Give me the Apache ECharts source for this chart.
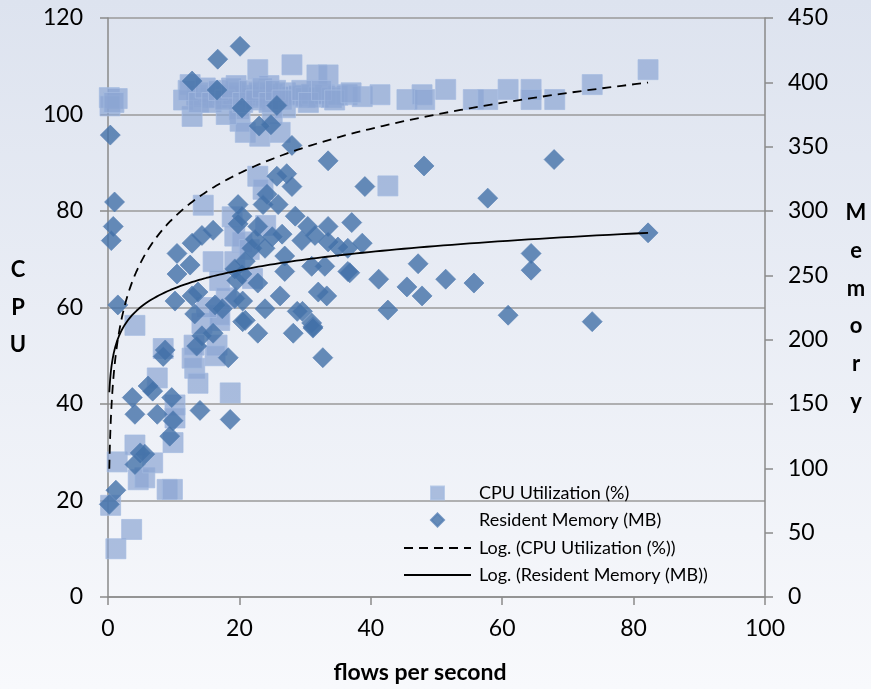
<!DOCTYPE html>
<html><head><meta charset="utf-8">
<script src="https://cdn.jsdelivr.net/npm/echarts@6/dist/echarts.min.js"></script>
<style>html,body{margin:0;padding:0;background:#fff;}#c{width:871px;height:689px;}</style>
</head><body><div id="c"></div>
<script>
// flows per second (x) and CPU utilization (%) for the square markers
const cpuFlows = [0.2,1.4,0.3,1.2,3.6,0.4,1.4,4.1,4.6,5.6,6.8,9.0,9.8,7.5,8.4,10.2,10.2,9.9,13.2,13.7,12.8,13.1,16.6,16.3,18.6,14.3,4.1,17,14.5,22.8,23.6,18.9,19.3,20.4,16,19.3,17,17,12.5,12.8,22.8,28,31.8,33.5,20.1,20.9,23.1,26.2,27,36.4,38.7,41.4,45.5,47.8,48.2,51.4,55.6,57.8,60.9,64.4,64.4,68,73.7,82.2,42.6,
  13.5,14.5,15.5,16.5,17.5,18.5,19.5,21,22,23,24,25,26,27,28,29,30,31,32,33,34,35,
  21.5,22,18,15,24,20,19,18,25,19.5,24.5,
  11.5,12.2,13.8,14.8,15.8,16.8,17.8,18.8,20.5,21.5,22.5,23.5,24.5,25.5,26.5,29.5,30.5,32.5,34.5,37,
  0.9];
const cpuValues = [103.5,103.3,101.8,10,14,19,28,31.5,24.3,24.7,27.8,22.3,22.3,45.4,51.5,39.8,37.1,32,47.4,44.3,49.5,52.2,52.2,50,42.3,56.7,56.3,57.3,81.2,87.2,84.5,78.8,74.8,73.6,69.5,69.5,65.6,58.4,106.2,99.6,109.3,110.3,108.2,108.2,98.6,96.3,95.5,96.3,101.4,104.1,103.7,104.1,103.1,104.1,103.1,105.2,103.1,103.1,105.2,105.2,103.1,103.1,106.2,109.3,85.2,
  104,103.5,104.5,103.5,104,103.5,104.5,104,103.5,104.5,103.8,104.2,103.5,104.5,103.8,104,103.5,104.2,103.6,104.2,103.5,104,
  72,66,62,60,77,101,104,100,100,106,106,
  103,105,102.5,105.5,102.5,105,103,105.5,102.5,105,103,105.5,102.5,105,103,105,102.5,105,103,104.5,
  102.5];
// flows per second (x) and resident memory (MB) for the diamond markers
const memFlows = [0.35,12.8,16.7,20.1,16.6,20.4,25.7,23,24.8,28,33.5,25.7,27.2,28,24.2,23.6,25.9,19.8,20.4,19.8,22.8,28.5,30.4,33.5,37.1,16,14.3,12.8,10.5,12.5,10.5,22.4,25,26.5,21.9,23.9,29.5,31.5,33.5,35,36.5,26.9,20.9,19.3,20.4,22.8,19.6,26.9,31,33,36.5,10.2,12.8,13.7,13.2,16.3,17.4,19.3,20.5,20.9,23.9,26.2,28.8,32,33.3,31,20.5,22.8,28.2,31.2,32.7,18.3,16,14.3,13.5,8.7,8.4,6.1,6.8,3.7,4.1,7.5,9.7,9.9,9.4,14,18.6,4.9,5.6,4.1,1.2,0.2,
  1.0,0.8,0.5,1.5,
  48.1,67.9,39.1,57.8,38.7,82.2,64.4,64.4,47.2,36.8,41.2,45.5,47.8,51.4,55.7,42.6,60.9,73.7,31.2,29.6];
const memValues = [359,401,418,428,394,380,382,366,367,351,339,327,329,319,313,305,305,305,296,290,288,296,288,288,291,285,281,275,267,258,251,278,280,282,271,271,277,281,276,272,271,265,261,255,251,244,246,253,257,257,253,230,234,237,220,227,224,232,230,215,224,234,222,237,234,213,214,205,205,210,186,186,205,203,195,192,187,164,160,155,142,142,155,137,125,145,138,112,111,103,83,72,
  307,288,277,227,
  335,340,319,310,275,283,267,254,259,252,247,241,234,247,244,223,219,214,209,222];
// axis ticks
const xTicks = {min:0, max:100, step:20};
const cpuTicks = {min:0, max:120, step:20};
const memTicks = {min:0, max:450, step:50};

function zip(a,b){return a.map((v,i)=>[v,b[i]]);}
function logFit(xs, ys){
  const n = xs.length; let sx=0, sy=0, sxx=0, sxy=0;
  for(let i=0;i<n;i++){const l=Math.log(xs[i]); sx+=l; sy+=ys[i]; sxx+=l*l; sxy+=l*ys[i];}
  const a=(n*sxy-sx*sy)/(n*sxx-sx*sx); const b=(sy-a*sx)/n;
  return {a,b};
}
function trend(xs, ys){
  const f=logFit(xs,ys); const lo=Math.min(...xs), hi=Math.max(...xs); const pts=[];
  for(let i=0;i<=240;i++){const x=lo*Math.pow(hi/lo,i/240); pts.push([x,f.a*Math.log(x)+f.b]);}
  return pts;
}
const FONT = 'Lato';
const axisLine = {show:true, lineStyle:{color:'#8a8a8a', width:1.5}};
const axisTick = {show:true, inside:false, length:8, lineStyle:{color:'#8a8a8a', width:1.5}};

const chart = echarts.init(document.getElementById('c'), null, {renderer:'canvas'});
chart.setOption({
  animation:false,
  backgroundColor:{type:'linear', x:0, y:0, x2:0, y2:1, colorStops:[{offset:0,color:'#dde3ef'},{offset:1,color:'#f8f9fc'}]},
  textStyle:{fontFamily:FONT},
  grid:{left:108, right:106, top:18, bottom:89, containLabel:false},
  xAxis:{type:'value', min:xTicks.min, max:xTicks.max, interval:xTicks.step,
    axisLine, axisTick, splitLine:{show:false},
    axisLabel:{fontSize:23, color:'#000', margin:20, fontFamily:FONT},
    name:'flows per second', nameLocation:'middle', nameGap:64,
    nameTextStyle:{fontSize:23, fontWeight:'bold', color:'#000', fontFamily:FONT, padding:[0,33,0,0]}},
  yAxis:[
    {type:'value', position:'left', min:cpuTicks.min, max:cpuTicks.max, interval:cpuTicks.step,
     axisLine, axisTick, splitLine:{show:true, lineStyle:{color:'#9a9a9a', width:1.5}},
     axisLabel:{fontSize:23, color:'#000', margin:25, fontFamily:FONT},
     name:'C\nP\nU', nameLocation:'middle', nameRotate:0, nameGap:90,
     nameTextStyle:{fontSize:22, fontWeight:'bold', color:'#000', lineHeight:37.5, align:'center', fontFamily:FONT}},
    {type:'value', position:'right', min:memTicks.min, max:memTicks.max, interval:memTicks.step,
     axisLine, axisTick, splitLine:{show:false},
     axisLabel:{fontSize:23, color:'#000', margin:23, fontFamily:FONT},
     name:'M\ne\nm\no\nr\ny', nameLocation:'middle', nameRotate:0, nameGap:91,
     nameTextStyle:{fontSize:22, fontWeight:'bold', color:'#000', lineHeight:37.8, align:'center', fontFamily:FONT}}
  ],
  legend:[
    {data:['CPU Utilization (%)','Resident Memory (MB)'], orient:'vertical', left:430, top:483, padding:0,
     itemWidth:13, itemHeight:13, itemGap:7, selectedMode:false,
     textStyle:{fontSize:18, color:'#000', lineHeight:20, padding:[0,0,0,30], fontFamily:FONT}},
    {data:['Log. (CPU Utilization (%))','Log. (Resident Memory (MB))'], orient:'vertical', left:403, top:538, padding:0,
     itemWidth:67, itemHeight:14, itemGap:7, selectedMode:false, itemStyle:{opacity:0},
     textStyle:{fontSize:18, color:'#000', lineHeight:20, padding:[0,0,0,3], fontFamily:FONT}}
  ],
  series:[
    {name:'CPU Utilization (%)', type:'scatter', yAxisIndex:0, symbol:'rect', symbolSize:20,
     itemStyle:{color:'rgba(139,165,211,0.88)', borderColor:'rgba(165,187,224,0.9)', borderWidth:1},
     data:zip(cpuFlows,cpuValues)},
    {name:'Resident Memory (MB)', type:'scatter', yAxisIndex:1, symbol:'diamond', symbolSize:[20,20],
     itemStyle:{color:'#4270a8', borderColor:'#5680b4', borderWidth:0.8},
     data:zip(memFlows,memValues)},
    {name:'Log. (CPU Utilization (%))', type:'line', yAxisIndex:0, showSymbol:false, symbol:'none',
     lineStyle:{color:'#000', width:1.8, type:[9,6]}, itemStyle:{color:'#000'},
     data:trend(cpuFlows,cpuValues), z:5},
    {name:'Log. (Resident Memory (MB))', type:'line', yAxisIndex:1, showSymbol:false, symbol:'none',
     lineStyle:{color:'#000', width:1.8}, itemStyle:{color:'#000'},
     data:trend(memFlows,memValues), z:5}
  ]
});
</script></body></html>
